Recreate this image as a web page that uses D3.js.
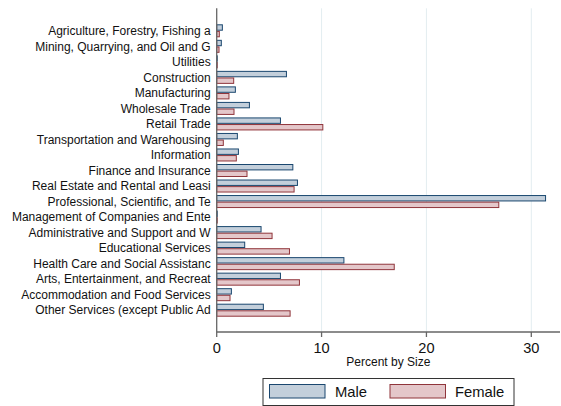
<!DOCTYPE html>
<html><head><meta charset="utf-8">
<script src="https://cdn.jsdelivr.net/npm/d3@7"></script>
<style>body{margin:0;background:#fff}svg{display:block;font-family:"Liberation Sans",Arial,sans-serif}</style>
</head><body><div id="chart"></div>
<script>
const categories = [
  "Agriculture, Forestry, Fishing a",
  "Mining, Quarrying, and Oil and G",
  "Utilities",
  "Construction",
  "Manufacturing",
  "Wholesale Trade",
  "Retail Trade",
  "Transportation and Warehousing",
  "Information",
  "Finance and Insurance",
  "Real Estate and Rental and Leasi",
  "Professional, Scientific, and Te",
  "Management of Companies and Ente",
  "Administrative and Support and W",
  "Educational Services",
  "Health Care and Social Assistanc",
  "Arts, Entertainment, and Recreat",
  "Accommodation and Food Services",
  "Other Services (except Public Ad"
];
const male   = [0.54,0.44,0.05,6.65,1.78,3.12,6.08,1.97,2.07,7.26,7.70,31.36,0.05,4.23,2.67,12.13,6.08,1.40,4.45];
const female = [0.25,0.22,0.05,1.62,1.17,1.65,10.12,0.63,1.87,2.89,7.38,26.90,0.05,5.28,6.94,16.93,7.89,1.27,7.00];
const xTicks = [0,10,20,30];
const seriesNames = ["Male","Female"];

const W = 561, H = 406;
const svg = d3.select("#chart").append("svg").attr("width",W).attr("height",H);

const x = d3.scaleLinear().domain([0,30]).range([216.7,531.3]);
const y = d3.scalePoint().domain(categories).range([30.8,310.2]);
const plotTop = 8.3, plotBottom = 332, plotRight = 560;

const colors = {
  Male:   {fill:"#c3cfdb", stroke:"#1a476f"},
  Female: {fill:"#e4c7ca", stroke:"#90353b"}
};

// gridlines
svg.append("g").selectAll("line").data(xTicks.filter(d=>d>0)).join("line")
  .attr("x1",d=>x(d)).attr("x2",d=>x(d)).attr("y1",plotTop).attr("y2",plotBottom)
  .attr("stroke","#e3edf0").attr("stroke-width",1);

// bars
const bh = 5.4;
const g = svg.append("g");
g.selectAll("rect.m").data(categories).join("rect").attr("class","m")
  .attr("x",x(0)).attr("y",(d)=>y(d)-bh-0.6)
  .attr("width",(d,i)=>Math.max(0.5,x(male[i])-x(0))).attr("height",bh)
  .attr("fill",colors.Male.fill).attr("stroke",colors.Male.stroke).attr("stroke-width",1);
g.selectAll("rect.f").data(categories).join("rect").attr("class","f")
  .attr("x",x(0)).attr("y",(d)=>y(d)+0.6)
  .attr("width",(d,i)=>Math.max(0.5,x(female[i])-x(0))).attr("height",bh)
  .attr("fill",colors.Female.fill).attr("stroke",colors.Female.stroke).attr("stroke-width",1);

// y axis line
svg.append("line").attr("x1",x(0)).attr("x2",x(0)).attr("y1",plotTop).attr("y2",plotBottom)
  .attr("stroke","#666").attr("stroke-width",1.3);
// x axis line
svg.append("line").attr("x1",x(0)).attr("x2",plotRight).attr("y1",plotBottom).attr("y2",plotBottom)
  .attr("stroke","#666").attr("stroke-width",1.3);

// category labels
svg.append("g").selectAll("text").data(categories).join("text")
  .attr("x",210.7).attr("y",d=>y(d)).attr("dy","0.35em")
  .attr("text-anchor","end").attr("font-size",12).attr("fill","#111").text(d=>d);

// x ticks
const xt = svg.append("g");
xt.selectAll("line").data(xTicks).join("line")
  .attr("x1",d=>x(d)).attr("x2",d=>x(d)).attr("y1",plotBottom).attr("y2",plotBottom+5)
  .attr("stroke","#666").attr("stroke-width",1.3);
xt.selectAll("text").data(xTicks).join("text")
  .attr("x",d=>x(d)).attr("y",352.5).attr("text-anchor","middle")
  .attr("font-size",14.6).attr("fill","#111").text(d=>d);

svg.append("text").attr("x",(x(0)+plotRight)/2).attr("y",366)
  .attr("text-anchor","middle").attr("font-size",12).attr("fill","#111").text("Percent by Size");

// legend
const lg = svg.append("g");
lg.append("rect").attr("x",263).attr("y",378.5).attr("width",251).attr("height",27)
  .attr("fill","#fff").attr("stroke","#333").attr("stroke-width",1);
const legendItems = [
  {name:seriesNames[0], sx:269.5, tx:335},
  {name:seriesNames[1], sx:390, tx:455}
];
legendItems.forEach(it=>{
  lg.append("rect").attr("x",it.sx).attr("y",384.5).attr("width",55.5).attr("height",13.5)
    .attr("fill",colors[it.name].fill).attr("stroke",colors[it.name].stroke).attr("stroke-width",1);
  lg.append("text").attr("x",it.tx).attr("y",397).attr("font-size",14.8).attr("fill","#111").text(it.name);
});
</script></body></html>
